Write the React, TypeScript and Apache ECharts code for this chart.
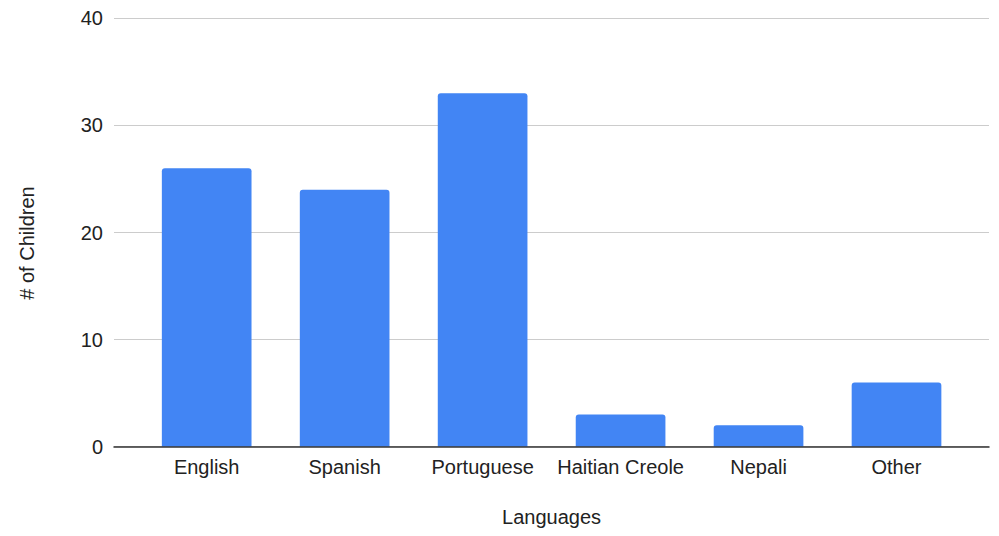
import React, { useEffect, useRef } from "react";
import * as echarts from "echarts";

const languages = ["English", "Spanish", "Portuguese", "Haitian Creole", "Nepali", "Other"];
const children = [26, 24, 33, 3, 2, 6];
const yTicks = [0, 10, 20, 30, 40];

const FONT = "'Liberation Sans', Arial, sans-serif";
const TEXT = "#222222";

export default function App() {
  const ref = useRef<HTMLDivElement>(null);

  useEffect(() => {
    if (!ref.current) return;
    const chart = echarts.init(ref.current, null, { renderer: "svg" });
    const yMin = yTicks[0];
    const yMax = yTicks[yTicks.length - 1];
    const yStep = yTicks[1] - yTicks[0];

    chart.setOption({
      animation: false,
      backgroundColor: "#ffffff",
      textStyle: { fontFamily: FONT },
      grid: [
        // wide grid: gridlines, baseline and tick labels
        { left: 114, right: 10, top: 18.3, bottom: 89.3, containLabel: false },
        // inner grid: the bars
        { left: 137.7, right: 33.5, top: 18.3, bottom: 89.3, containLabel: false },
      ],
      graphic: [
        {
          type: "text",
          x: 27,
          y: 243,
          rotation: Math.PI / 2,
          style: {
            text: "# of Children",
            fontSize: 20,
            fontFamily: FONT,
            fill: TEXT,
            align: "center",
            verticalAlign: "middle",
          },
        },
      ],
      xAxis: [
        {
          type: "category",
          gridIndex: 0,
          data: [""],
          axisLine: { show: true, lineStyle: { color: "#333333", width: 1.5 } },
          axisTick: { show: false },
          axisLabel: { show: false },
          name: "Languages",
          nameLocation: "middle",
          nameGap: 60,
          nameTextStyle: { fontSize: 20, color: TEXT, fontFamily: FONT },
          z: 5,
        },
        {
          type: "category",
          gridIndex: 1,
          data: languages,
          axisLine: { show: false },
          axisTick: { show: false },
          axisLabel: { fontSize: 20, color: TEXT, fontFamily: FONT, margin: 10, interval: 0 },
        },
      ],
      yAxis: [
        {
          type: "value",
          gridIndex: 0,
          min: yMin,
          max: yMax,
          interval: yStep,
          axisLine: { show: false },
          axisTick: { show: false },
          axisLabel: { fontSize: 20, color: TEXT, fontFamily: FONT, margin: 11 },
          splitLine: { show: true, lineStyle: { color: "#cccccc", width: 1.2 } },
        },
        {
          type: "value",
          gridIndex: 1,
          min: yMin,
          max: yMax,
          interval: yStep,
          axisLine: { show: false },
          axisTick: { show: false },
          axisLabel: { show: false },
          splitLine: { show: false },
        },
      ],
      series: [
        {
          type: "bar",
          xAxisIndex: 1,
          yAxisIndex: 1,
          data: children,
          barWidth: "65%",
          itemStyle: { color: "#4285f4", borderRadius: [3, 3, 0, 0] },
          z: 3,
        },
      ],
    });

    return () => chart.dispose();
  }, []);

  return <div ref={ref} style={{ width: 999, height: 536, margin: -8 }} />;
}
